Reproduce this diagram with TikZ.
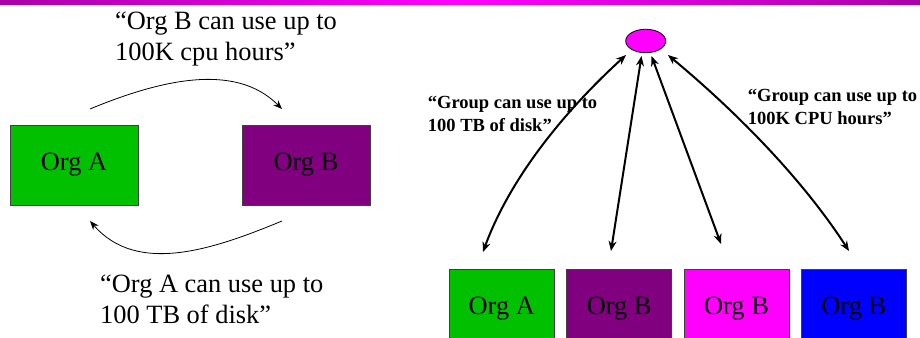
\documentclass[tikz,border=0pt]{standalone}
\usepackage{fontspec}
\setmainfont{Liberation Serif}
\usetikzlibrary{shapes.geometric,arrows.meta}
\definecolor{orggreen}{RGB}{0,192,0}
\definecolor{orgpurple}{RGB}{128,0,128}
\definecolor{orgmagenta}{RGB}{255,0,255}
\definecolor{orgblue}{RGB}{0,0,255}
\definecolor{barend}{RGB}{170,0,170}
\tikzset{
  orgbox/.style={draw=black!75, line width=0.8pt, inner sep=0pt, font=\rmfamily\fontsize{26.4}{31}\selectfont},
  bigbox/.style={orgbox, minimum width=128pt, minimum height=80pt},
  smallbox/.style={orgbox, minimum width=105pt, minimum height=80pt},
  quotetext/.style={inner sep=0pt, align=left, anchor=west, font=\rmfamily\fontsize{26.4}{31}\selectfont},
  boldquote/.style={inner sep=0pt, align=left, anchor=west, font=\rmfamily\bfseries\fontsize{18.5}{23}\selectfont},
  thinarrow/.style={line width=0.8pt, -{Stealth[length=9pt,width=7pt]}},
  thickarrow/.style={line width=2pt, {Stealth[length=10pt,width=8pt]}-{Stealth[length=10pt,width=8pt]}}
}
\begin{document}
\begin{tikzpicture}[x=1pt,y=-1pt]
\clip (0,0) rectangle (920,337);
\fill[white] (0,0) rectangle (920,337);
% top bar
\shade[left color=barend, right color=barend, middle color=orgmagenta] (0,0) rectangle (920,4.5);

% left diagram
\node[bigbox, fill=orggreen] (la) at (74,165) {Org A};
\node[bigbox, fill=orgpurple] (lb) at (306,165) {Org B};
\coordinate (t0) at (90,109);
\coordinate (t1) at (282,109);
\coordinate (b0) at (282,221);
\coordinate (b1) at (90,221);
\draw[thinarrow] (t0) .. controls (160,80) and (235,62) .. (t1);
\draw[thinarrow] (b0) .. controls (212,250) and (137,275) .. (b1);
\node[quotetext] (qtop) at (115,39) {“Org B can use up to\\100K cpu hours”};
\node[quotetext] (qbot) at (100,299) {“Org A can use up to\\100 TB of disk”};

% right diagram
\node[ellipse, draw=black, line width=0.8pt, fill=orgmagenta, minimum width=40pt, minimum height=23.5pt, inner sep=0pt] (grp) at (645.7,41) {};
\node[smallbox, fill=orggreen] (ra) at (501.8,309) {Org A};
\node[smallbox, fill=orgpurple] (rb) at (619.2,309) {Org B};
\node[smallbox, fill=orgmagenta] (rc) at (736.5,309) {Org B};
\node[smallbox, fill=orgblue] (rd) at (853.8,309) {Org B};

\coordinate (a1) at (483,252);
\coordinate (a2) at (611,251);
\coordinate (a3) at (721,244);
\coordinate (a4) at (849,251);
\coordinate (g1) at (626,55);
\coordinate (g2) at (641.5,56);
\coordinate (g3) at (651.5,56);
\coordinate (g4) at (668,55);
\draw[thickarrow] (a1) .. controls (507,186) and (555,120) .. (g1);
\draw[thickarrow] (a2) -- (g2);
\draw[thickarrow] (a3) -- (g3);
\draw[thickarrow] (a4) .. controls (807,186) and (746,120) .. (g4);

\node[boldquote] (ql) at (427.7,114) {“Group can use up to\\100 TB of disk”};
\node[boldquote] (qr) at (747.7,107) {“Group can use up to\\100K CPU hours”};
\end{tikzpicture}
\end{document}
